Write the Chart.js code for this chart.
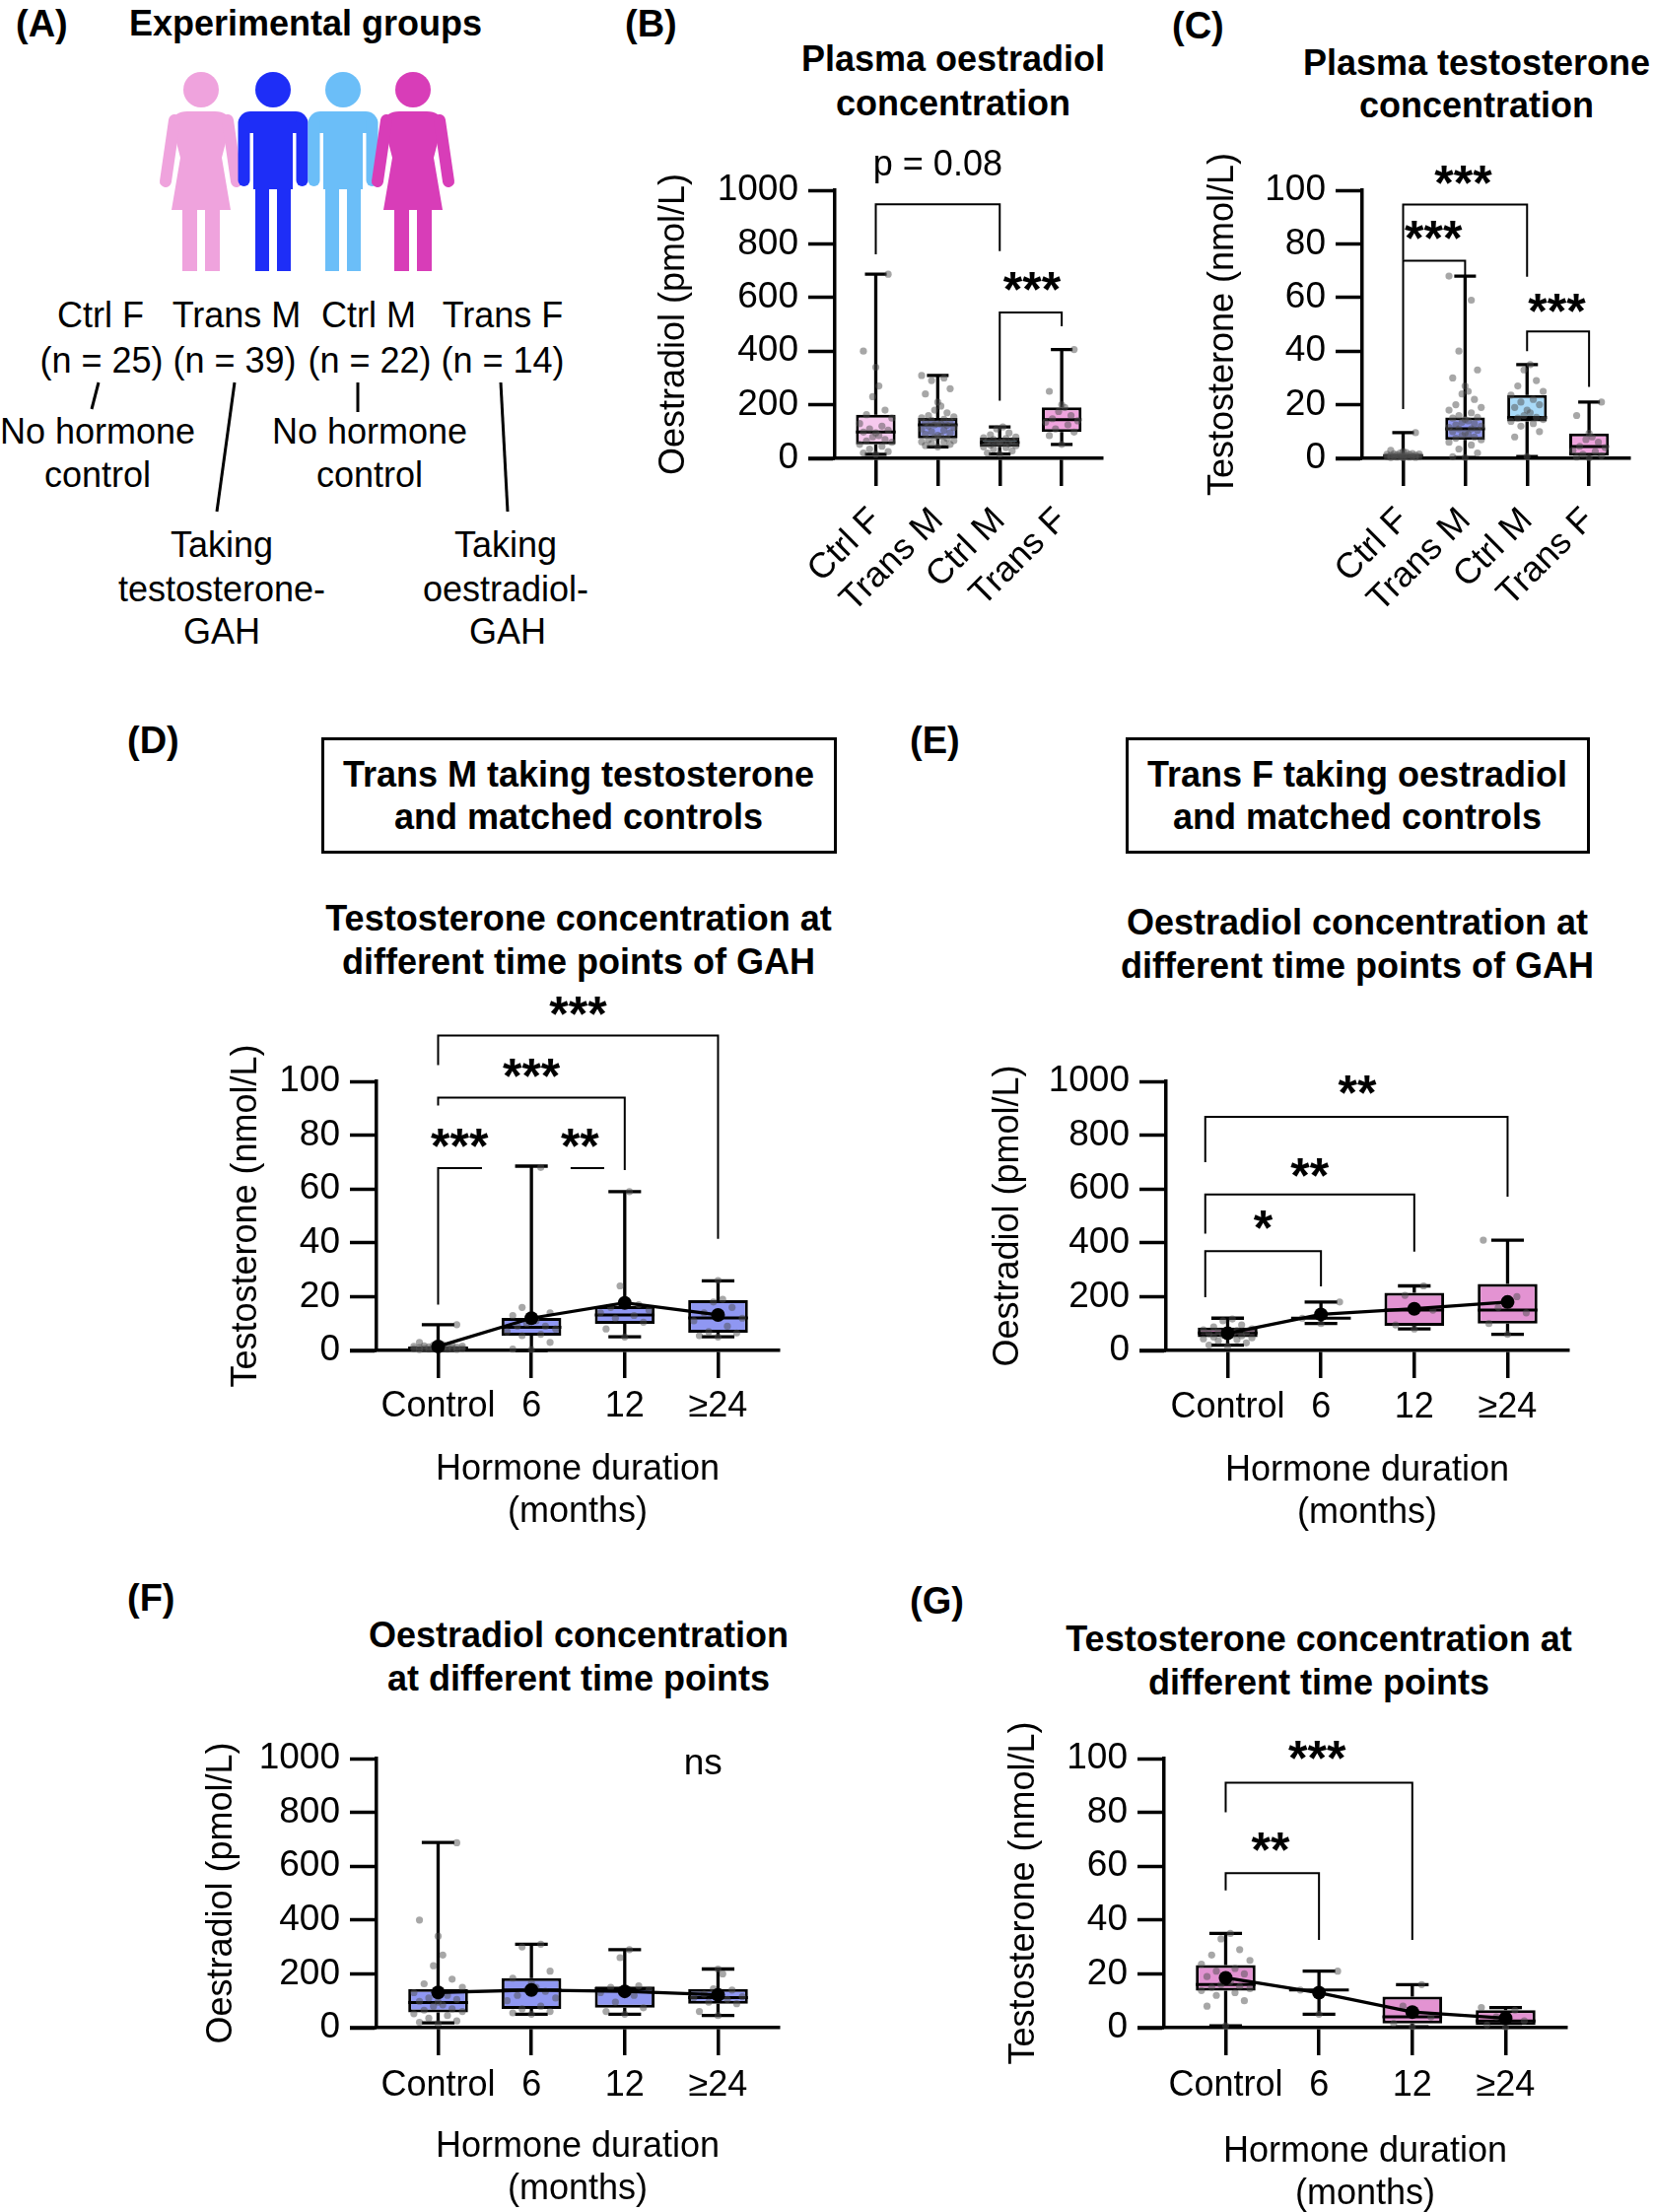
<!DOCTYPE html>
<html><head><meta charset="utf-8">
<script src="https://cdn.jsdelivr.net/npm/chart.js@4.4.1/dist/chart.umd.min.js"></script>
<style>
html,body{margin:0;padding:0;background:#fff;overflow:hidden;}
#page{position:relative;width:1677px;height:2244px;overflow:hidden;background:#fff;font-family:"Liberation Sans",Arial,sans-serif;color:#000;}
.t{position:absolute;white-space:nowrap;line-height:1;font-size:36px;}
.c{transform:translate(-50%,-50%);}
.l{transform:translate(0,-50%);}
.b{font-weight:bold;}
.lg{font-size:38px;font-weight:bold;}
canvas{position:absolute;}
.frame{position:absolute;border:3px solid #000;box-sizing:border-box;}
svg{position:absolute;left:0;top:0;}
</style></head><body><div id="page"></div>
<script>
// ================= DATA =================
const groupLabels = ['Ctrl F', 'Trans M', 'Ctrl M', 'Trans F'];
const durationLabels = ['Control', '6', '12', '≥24'];
const oestradiolTicks = [0, 200, 400, 600, 800, 1000];
const testosteroneTicks = [0, 20, 40, 60, 80, 100];

// five-number summaries per group: [min, Q1, median, Q3, max]
const bOestradiolBoxes = [[15,52,98,163,687],[43,74,125,151,309],[16,43,59,77,117],[52,98,144,190,406]];
const cTestosteroneBoxes = [[0.2,0.4,1.0,1.6,9.6],[0.3,6.9,11,15.3,68],[0.7,13.8,15.3,23.6,35],[0.2,1.0,4.4,9.3,21]];
const dTestosteroneBoxes = [[0.1,0.4,0.8,1.5,9.6],[0,5.5,8.6,12.1,68.5],[5.1,9.9,13.2,16.5,59],[5.1,6.6,12.1,18.7,25.9]];
const eOestradiolBoxes = [[20,49,65,85,120],[100,120,120,120,180],[80,92,150,214,240],[60,100,150,247,410]];
const fOestradiolBoxes = [[18,57,93,144,688],[50,70,140,184,310],[50,74,145,153,290],[45,89,112,144,218]];
const gTestosteroneBoxes = [[0.7,13.7,16,23.3,35],[5,14,14,14,21],[0.3,1.6,4,11.5,16],[0.2,1,2.5,6.5,7.5]];

// group means (black dots joined by a line)
const dMeans = [1.5, 12, 17.7, 13.2];
const eMeans = [64, 134, 155, 180];
const fMeans = [131, 140, 135, 122];
const gMeans = [18.5, 13, 5.8, 3.5];

// individual values
const bDots = [
  [15,20,25,35,45,52,60,65,70,80,85,95,98,105,110,120,130,150,163,180,230,270,340,400,687],
  [43,48,52,55,60,62,66,70,74,78,82,86,90,95,100,105,110,115,120,123,125,128,130,134,138,142,146,151,155,160,170,180,195,210,240,260,290,300,309],
  [16,20,28,35,40,43,47,50,54,57,59,60,63,66,70,74,77,80,88,95,110,117],
  [52,85,98,110,125,135,140,148,160,175,190,200,250,406]
];
const cDots = [
  [0.2,0.3,0.4,0.5,0.5,0.6,0.7,0.8,0.8,0.9,1.0,1.0,1.1,1.2,1.3,1.4,1.5,1.6,1.7,1.8,2.0,2.2,2.5,3.0,9.6],
  [0.3,0.6,2,3.5,5,6,6.9,7.5,8,8.5,9,9.5,10,10.5,11,11,11.5,12,12.5,13,13.5,14,14.5,15,15.3,16,17,18,19,20,22,24,25,27,30,33,40,59,68],
  [0.7,8,10,12,13,13.8,14.5,15,15.3,16,17,18,19,20,21,22,23.6,25,27,29,33,35],
  [0.2,0.5,1,1.5,2.5,3,4,4.5,6,7,8,9.3,16,21]
];
const dDots = [
  [0.2,0.3,0.4,0.5,0.5,0.6,0.7,0.8,0.8,0.9,1.0,1.0,1.1,1.2,1.3,1.4,1.5,1.6,1.7,1.8,2.0,2.2,2.5,3.0,9.6],
  [0.3,0.5,3,5.5,6,7,8,9,9,10,11,12,13,14,16,68],
  [5,8,10.5,12,13,14,15,16,17,24,59],
  [5,5.5,6.5,7,9,11,12,14,16,18,19,26]
];
const eDots = [
  [16,20,28,35,40,43,47,50,54,57,59,60,63,66,70,74,77,80,88,95,110,117],
  [100,120,180],
  [80,95,150,205,240],
  [60,100,140,160,200,410]
];
const fDots = [
  [15,20,25,35,45,52,60,65,70,80,85,95,98,105,110,120,130,150,163,180,230,270,340,400,687],
  [50,55,60,70,80,100,110,120,135,140,150,165,184,210,300,310],
  [50,60,74,95,120,130,140,150,155,260,290],
  [45,60,89,95,105,112,115,125,140,144,200,218]
];
const gDots = [
  [0.7,8,10,12,13,13.8,14.5,15,15.3,16,17,18,19,20,21,22,23.6,25,27,29,33,35],
  [5,14,21],
  [0.3,1.6,4,8,16],
  [0.2,1,2.5,4,6.5,7.5]
];

// significance brackets (data units) and their labels
const bBrackets = [{x1:0,x2:2,y:948,ya:761,yb:773},{x1:2,x2:3,y:544,ya:215,yb:493}];
const bMarks = [{x:1,y:1103,text:'p = 0.08'},{x:2.52,y:669,text:'***'}];
const cBrackets = [{x1:0,x2:2,y:94.7,ya:74,yb:67.7},{x1:0,x2:1,y:73.7,ya:18.4,yb:68},{x1:2,x2:3,y:47.3,ya:40,yb:26.7}];
const cMarks = [{x:0.97,y:106.7,text:'***'},{x:0.49,y:86,text:'***'},{x:2.48,y:59,text:'***'}];
const dBrackets = [{x1:0,x2:3,y:117,ya:106,yb:41.5},{x1:0,x2:2,y:94,ya:91,yb:67},{x1:0,x2:0.47,y:67.8,ya:17},{x1:1.42,x2:1.78,y:67.8}];
const dMarks = [{x:1.5,y:129,text:'***'},{x:1.0,y:106,text:'***'},{x:0.23,y:80,text:'***'},{x:1.52,y:80,text:'**'}];
const eBrackets = [{x1:-0.24,x2:3,y:868,ya:700,yb:571},{x1:-0.24,x2:2,y:580,ya:434,yb:367},{x1:-0.24,x2:1,y:369,ya:198,yb:238}];
const eMarks = [{x:1.39,y:996,text:'**'},{x:0.88,y:690,text:'**'},{x:0.38,y:495,text:'*'}];
const fBrackets = [];
const fMarks = [{x:2.84,y:978,text:'ns'}];
const gBrackets = [{x1:0,x2:2,y:91,ya:80,yb:32.6},{x1:0,x2:1,y:57.4,ya:51,yb:32.6}];
const gMarks = [{x:0.98,y:104,text:'***'},{x:0.48,y:70,text:'**'}];

// ================= STYLE =================
const colCtrlF = '#F6C9EE', colTransM = '#8F97F2', colCtrlM = '#A9DAF8', colTransF = '#EFA3DD', colTransF2 = '#E393D2';
const jitterPattern = [0,-0.2,0.2,-0.1,0.1,-0.26,0.26,-0.15,0.15,-0.05,0.05];
const FONT = '"Liberation Sans", Arial, sans-serif';
const page = document.getElementById('page');

// ================= STATIC TEXT (panel A, letters, titles) =================
function txt(x, y, s, cls) {
  const d = document.createElement('div');
  d.className = 't ' + cls;
  d.style.left = x + 'px'; d.style.top = y + 'px';
  d.textContent = s;
  page.appendChild(d);
}
[
  [16,24,'(A)','l lg'], [131,24,'Experimental groups','l b'],
  [102,320,'Ctrl F','c'], [240,320,'Trans M','c'], [374,320,'Ctrl M','c'], [510,320,'Trans F','c'],
  [103,366,'(n = 25)','c'], [238,366,'(n = 39)','c'], [375,366,'(n = 22)','c'], [510,366,'(n = 14)','c'],
  [99,438,'No hormone','c'], [99,482,'control','c'], [375,438,'No hormone','c'], [375,482,'control','c'],
  [225,553,'Taking','c'], [225,598,'testosterone-','c'], [225,641,'GAH','c'],
  [513,553,'Taking','c'], [513,598,'oestradiol-','c'], [515,641,'GAH','c'],
  [634,24,'(B)','l lg'], [967,60,'Plasma oestradiol','c b'], [967,105,'concentration','c b'],
  [1189,26,'(C)','l lg'], [1498,64,'Plasma testosterone','c b'], [1498,107,'concentration','c b'],
  [129,751,'(D)','l lg'], [587,786,'Trans M taking testosterone','c b'], [587,829,'and matched controls','c b'],
  [587,932,'Testosterone concentration at','c b'], [587,976,'different time points of GAH','c b'],
  [923,751,'(E)','l lg'], [1377,786,'Trans F taking oestradiol','c b'], [1377,829,'and matched controls','c b'],
  [1377,936,'Oestradiol concentration at','c b'], [1377,980,'different time points of GAH','c b'],
  [129,1621,'(F)','l lg'], [587,1659,'Oestradiol concentration','c b'], [587,1703,'at different time points','c b'],
  [923,1624,'(G)','l lg'], [1338,1663,'Testosterone concentration at','c b'], [1338,1707,'different time points','c b']
].forEach(a => txt(a[0], a[1], a[2], a[3]));

function frame(x, y, w, h) {
  const d = document.createElement('div');
  d.className = 'frame';
  Object.assign(d.style, {left:x+'px', top:y+'px', width:w+'px', height:h+'px'});
  page.appendChild(d);
}
frame(326, 748, 523, 118);
frame(1142, 748, 471, 118);

// silhouettes + connector lines of panel A
(function () {
  const NS = 'http://www.w3.org/2000/svg';
  const svg = document.createElementNS(NS, 'svg');
  svg.setAttribute('width', 620); svg.setAttribute('height', 660);
  let h = '';
  function female(cx, col) {
    h += `<circle cx="${cx}" cy="91" r="18" fill="${col}"/>`;
    h += `<path d="M${cx-14},113 L${cx+14},113 Q${cx+28},113 ${cx+30},125 L${cx+21},160 L${cx+30},213 L${cx-30},213 L${cx-21},160 L${cx-30},125 Q${cx-28},113 ${cx-14},113 Z" fill="${col}"/>`;
    h += `<line x1="${cx-27}" y1="122" x2="${cx-36}" y2="184" stroke="${col}" stroke-width="12" stroke-linecap="round"/>`;
    h += `<line x1="${cx+27}" y1="122" x2="${cx+36}" y2="184" stroke="${col}" stroke-width="12" stroke-linecap="round"/>`;
    h += `<rect x="${cx-19}" y="208" width="15" height="67" fill="${col}"/><rect x="${cx+4}" y="208" width="15" height="67" fill="${col}"/>`;
  }
  function male(cx, col) {
    h += `<circle cx="${cx}" cy="91" r="18" fill="${col}"/>`;
    h += `<rect x="${cx-35}" y="113" width="70" height="22" rx="12" fill="${col}"/>`;
    h += `<rect x="${cx-20}" y="120" width="40" height="72" fill="${col}"/>`;
    h += `<line x1="${cx-29.5}" y1="124" x2="${cx-29.5}" y2="183" stroke="${col}" stroke-width="12" stroke-linecap="round"/>`;
    h += `<line x1="${cx+29.5}" y1="124" x2="${cx+29.5}" y2="183" stroke="${col}" stroke-width="12" stroke-linecap="round"/>`;
    h += `<rect x="${cx-18}" y="188" width="14" height="87" fill="${col}"/><rect x="${cx+4}" y="188" width="14" height="87" fill="${col}"/>`;
  }
  female(204, '#EFA3DD');
  male(277, '#1E2EF7');
  male(348, '#6BBEF8');
  female(419, '#D83DB8');
  const L = (a,b,c,d) => { h += `<line x1="${a}" y1="${b}" x2="${c}" y2="${d}" stroke="#000" stroke-width="3"/>`; };
  L(100,388,93,415); L(238,388,220,519); L(363,388,363,418); L(508,388,515,519);
  svg.innerHTML = h;
  page.appendChild(svg);
})();

// ================= CHARTS =================
function makePlugin(p) {
  return {
    id: 'boxPlot_' + p.id,
    afterDatasetDraw(chart, args) {
      if (args.index !== 0) return;
      const xs = chart.scales.x, ys = chart.scales.y, ctx = chart.ctx;
      const sp = xs.getPixelForValue(1) - xs.getPixelForValue(0);
      ctx.save();
      ctx.strokeStyle = '#000';
      p.boxes.forEach((s, i) => {
        const cx = xs.getPixelForValue(i);
        const bw = sp * 0.64, cw = sp * 0.35;
        const [mn, q1, md, q3, mx] = s.map(v => ys.getPixelForValue(v));
        ctx.lineWidth = 3.3;
        ctx.beginPath();
        ctx.moveTo(cx, q3); ctx.lineTo(cx, mx);
        ctx.moveTo(cx, q1); ctx.lineTo(cx, mn);
        ctx.moveTo(cx - cw/2, mx); ctx.lineTo(cx + cw/2, mx);
        ctx.moveTo(cx - cw/2, mn); ctx.lineTo(cx + cw/2, mn);
        ctx.stroke();
        ctx.lineWidth = 3;
        ctx.beginPath();
        ctx.moveTo(cx - bw/2, md); ctx.lineTo(cx + bw/2, md);
        ctx.stroke();
      });
      ctx.restore();
    },
    afterDraw(chart) {
      const xs = chart.scales.x, ys = chart.scales.y, ctx = chart.ctx, a = chart.chartArea;
      ctx.save();
      ctx.strokeStyle = '#000'; ctx.fillStyle = '#000';
      // x-axis line continues left past the y-axis
      ctx.lineWidth = 3.5;
      ctx.beginPath(); ctx.moveTo(a.left - 27, a.bottom); ctx.lineTo(a.left, a.bottom); ctx.stroke();
      ctx.lineWidth = 2;
      p.brackets.forEach(b => {
        const x1 = xs.getPixelForValue(b.x1), x2 = xs.getPixelForValue(b.x2), y = ys.getPixelForValue(b.y);
        ctx.beginPath();
        if (b.ya != null) { ctx.moveTo(x1, ys.getPixelForValue(b.ya)); ctx.lineTo(x1, y); } else ctx.moveTo(x1, y);
        ctx.lineTo(x2, y);
        if (b.yb != null) ctx.lineTo(x2, ys.getPixelForValue(b.yb));
        ctx.stroke();
      });
      ctx.textAlign = 'center'; ctx.textBaseline = 'alphabetic';
      p.marks.forEach(m => {
        const x = xs.getPixelForValue(m.x), y = ys.getPixelForValue(m.y);
        let fs, off;
        if (/^\*+$/.test(m.text)) { fs = 50; ctx.font = 'bold 50px ' + FONT; off = 0.56; }
        else if (m.text === 'ns') { fs = 37; ctx.font = '37px ' + FONT; off = 0.26; }
        else { fs = 36; ctx.font = '36px ' + FONT; off = 0.36; }
        ctx.fillText(m.text, x, y + off * fs);
      });
      ctx.restore();
    }
  };
}

function buildChart(p) {
  const cv = document.createElement('canvas');
  cv.width = p.canvas.w; cv.height = p.canvas.h;
  cv.style.left = p.canvas.x + 'px'; cv.style.top = p.canvas.y + 'px';
  cv.style.width = p.canvas.w + 'px'; cv.style.height = p.canvas.h + 'px';
  page.appendChild(cv);
  const yWidth = p.area.l - p.canvas.x;
  const xHeight = p.canvas.y + p.canvas.h - p.area.b;
  const font36 = {family: FONT, size: 37};
  const datasets = [{
    type: 'bar',
    data: p.boxes.map((s, i) => ({x: i, y: [s[1], s[3]]})),
    backgroundColor: p.colors, borderColor: '#000', borderWidth: 3, borderSkipped: false,
    barPercentage: 0.64, categoryPercentage: 1, order: 3, clip: false
  }];
  const pts = [];
  p.dots.forEach((arr, i) => arr.forEach((v, k) => pts.push({x: i + jitterPattern[k % jitterPattern.length], y: v})));
  datasets.push({type: 'scatter', data: pts, pointRadius: 3.6, pointBackgroundColor: 'rgba(80,80,80,0.5)', pointBorderWidth: 0, order: 2, clip: false});
  if (p.means) datasets.push({
    type: 'line', data: p.means.map((m, i) => ({x: i, y: m})), borderColor: '#000', borderWidth: 3.3,
    pointRadius: 7, pointBackgroundColor: '#000', pointBorderWidth: 0, tension: 0, order: 1, clip: false
  });
  new Chart(cv, {
    type: 'bar',
    data: {datasets},
    options: {
      responsive: false, animation: false, events: [],
      layout: {padding: {left: 0, top: p.area.t - p.canvas.y, right: p.canvas.x + p.canvas.w - p.area.r, bottom: 0}},
      plugins: {legend: {display: false}, tooltip: {enabled: false}, title: {display: false}},
      scales: {
        x: {
          type: 'linear', min: -0.66, max: 3.65, offset: false,
          afterBuildTicks: s => { s.ticks = p.labels.map((_, i) => ({value: i})); },
          afterFit: s => { s.height = xHeight; },
          ticks: {
            callback: (v, i) => p.labels[i], font: {family: FONT, size: 36}, color: '#000', padding: p.tickPad,
            autoSkip: false, maxRotation: p.rot, minRotation: p.rot
          },
          grid: {display: true, offset: false, drawOnChartArea: false, drawTicks: true, tickLength: 28, tickWidth: 3.5, tickColor: '#000', color: '#000', lineWidth: 3.5},
          border: {display: true, color: '#000', width: 3.5},
          title: p.xTitle ? {display: true, text: p.xTitle, font: {family: FONT, size: 36}, color: '#000', padding: {top: 0, bottom: p.xTitlePad}} : {display: false}
        },
        y: {
          type: 'linear', min: 0, max: p.yTicks[p.yTicks.length - 1],
          afterBuildTicks: s => { s.ticks = p.yTicks.map(v => ({value: v})); },
          afterFit: s => { s.width = yWidth; },
          ticks: {callback: v => String(v), font: font36, color: '#000', padding: 10},
          grid: {display: true, drawOnChartArea: false, drawTicks: true, tickLength: 27, tickWidth: 3.5, tickColor: '#000', color: '#000'},
          border: {display: true, color: '#000', width: 3.5},
          title: {display: true, text: p.yTitle, font: {family: FONT, size: 36}, color: '#000', padding: {top: p.yTitleCx - p.canvas.x - 21.6, bottom: 0}}
        }
      }
    },
    plugins: [makePlugin(p)]
  });
}

const xT = ['Hormone duration', '(months)'];
buildChart({id:'B', canvas:{x:640,y:120,w:500,h:520}, area:{l:847,r:1118,t:193,b:465}, yTitleCx:684, yTitle:'Oestradiol (pmol/L)',
  yTicks: oestradiolTicks, labels: groupLabels, rot: 45, tickPad: 14, boxes: bOestradiolBoxes, dots: bDots,
  colors: [colCtrlF, colTransM, colCtrlM, colTransF], brackets: bBrackets, marks: bMarks});
buildChart({id:'C', canvas:{x:1180,y:120,w:497,h:520}, area:{l:1382,r:1653,t:193,b:465}, yTitleCx:1241, yTitle:'Testosterone (nmol/L)',
  yTicks: testosteroneTicks, labels: groupLabels, rot: 45, tickPad: 14, boxes: cTestosteroneBoxes, dots: cDots,
  colors: [colCtrlF, colTransM, colCtrlM, colTransF], brackets: cBrackets, marks: cMarks});
buildChart({id:'D', canvas:{x:100,y:1000,w:740,h:580}, area:{l:382,r:790,t:1097,b:1370}, yTitleCx:250, yTitle:'Testosterone (nmol/L)',
  yTicks: testosteroneTicks, labels: durationLabels, rot: 0, tickPad: 7.4, xTitle: xT, xTitlePad: 24.4,
  boxes: dTestosteroneBoxes, dots: dDots, means: dMeans, colors: colTransM, brackets: dBrackets, marks: dMarks});
buildChart({id:'E', canvas:{x:900,y:1000,w:740,h:580}, area:{l:1183,r:1591,t:1097,b:1370}, yTitleCx:1023, yTitle:'Oestradiol (pmol/L)',
  yTicks: oestradiolTicks, labels: durationLabels, rot: 0, tickPad: 8.4, xTitle: xT, xTitlePad: 23.4,
  boxes: eOestradiolBoxes, dots: eDots, means: eMeans, colors: colTransF2, brackets: eBrackets, marks: eMarks});
buildChart({id:'F', canvas:{x:100,y:1730,w:740,h:514}, area:{l:382,r:790,t:1784,b:2057}, yTitleCx:225, yTitle:'Oestradiol (pmol/L)',
  yTicks: oestradiolTicks, labels: durationLabels, rot: 0, tickPad: 9.4, xTitle: xT, xTitlePad: 1.4,
  boxes: fOestradiolBoxes, dots: fDots, means: fMeans, colors: colTransM, brackets: fBrackets, marks: fMarks});
buildChart({id:'G', canvas:{x:900,y:1730,w:740,h:514}, area:{l:1181,r:1589,t:1784,b:2057}, yTitleCx:1039, yTitle:'Testosterone (nmol/L)',
  yTicks: testosteroneTicks, labels: durationLabels, rot: 0, tickPad: 9.4, xTitle: xT, xTitlePad: -3.6,
  boxes: gTestosteroneBoxes, dots: gDots, means: gMeans, colors: colTransF2, brackets: gBrackets, marks: gMarks});
</script></body></html>
